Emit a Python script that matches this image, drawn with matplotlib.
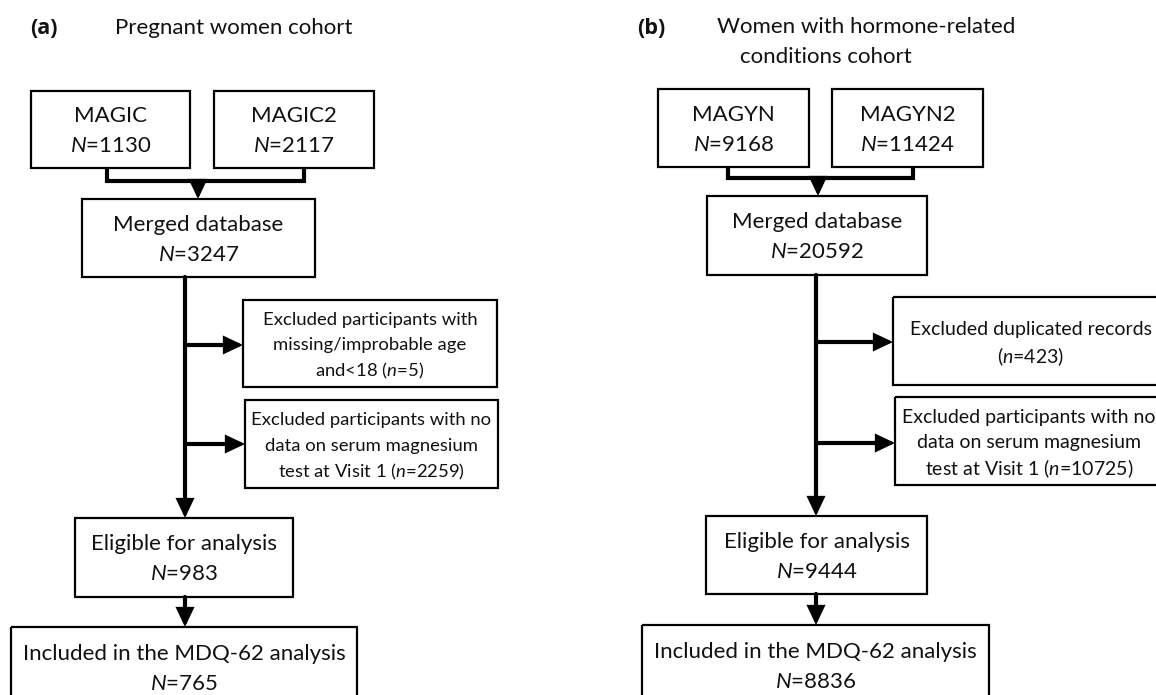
import matplotlib
matplotlib.use("Agg")
import matplotlib.pyplot as plt
from matplotlib.patches import Rectangle

# ---------------- data ----------------
panel_labels = ["(a)", "(b)"]
panel_titles = [["Pregnant women cohort"],
                ["Women with hormone-related", "conditions cohort"]]
source_names = [["MAGIC", "MAGIC2"], ["MAGYN", "MAGYN2"]]
source_n = [[1130, 2117], [9168, 11424]]
merged_n = [3247, 20592]
exclusion_texts = [
    ["Excluded participants with\nmissing/improbable age\nand<18 ",
     "Excluded participants with no\ndata on serum magnesium\ntest at Visit 1 "],
    ["Excluded duplicated records\n",
     "Excluded participants with no\ndata on serum magnesium\ntest at Visit 1 "],
]
exclusion_n = [[5, 2259], [423, 10725]]
eligible_n = [983, 9444]
included_n = [765, 8836]

# ---------------- layout (pixel space) ----------------
W, H = 1156, 695
layout = [
    dict(label=(30, 28), title=[(115, 28)], small=13.3,
         src=[(31, 91, 159, 77), (214, 91, 160, 77)],
         join_y=181, join_x=(107, 304), join_arrow_x=198,
         merged=(82, 199, 233, 78), main_x=185,
         excl=[(243, 300, 254, 87), (245, 400, 253, 88)], excl_y=[345, 444],
         elig=(75, 518, 218, 79), incl=(11, 627, 346, 80)),
    dict(label=(637, 28), title=[(717, 27), (740, 57)], small=14.0,
         src=[(658, 89, 151, 78), (832, 89, 151, 78)],
         join_y=178, join_x=(728, 913), join_arrow_x=818,
         merged=(707, 196, 220, 79), main_x=816,
         excl=[(893, 297, 276, 88), (895, 397, 268, 88)], excl_y=[342, 443],
         elig=(706, 516, 221, 78), incl=(642, 625, 347, 80)),
]

plt.rcParams["font.family"] = ["Lato", "DejaVu Sans"]
plt.rcParams["mathtext.fontset"] = "custom"
plt.rcParams["mathtext.rm"] = "Lato"
plt.rcParams["mathtext.it"] = "Lato:italic"

BIG = 16.0
BOX_LW = 1.6
CON_LW = 3.0
TXT_COLOR = "#111111"

fig = plt.figure(figsize=(W / 100, H / 100), dpi=100)
ax = fig.add_axes([0, 0, 1, 1])
ax.set_xlim(0, W)
ax.set_ylim(H, 0)
ax.axis("off")


def box(rect, lines, size, gap):
    x, y, w, h = rect
    ax.add_patch(Rectangle((x, y), w, h, fill=False, lw=BOX_LW, ec="black"))
    n = len(lines)
    cy = y + h / 2
    for i, line in enumerate(lines):
        ly = cy + (i - (n - 1) / 2) * gap
        ax.text(x + w / 2, ly, line, ha="center", va="center_baseline",
                fontsize=size, clip_on=True, color=TXT_COLOR)


def arrow(x0, y0, x1, y1):
    ax.annotate("", xy=(x1, y1), xytext=(x0, y0),
                arrowprops=dict(arrowstyle="-|>,head_length=0.95,head_width=0.45",
                                lw=CON_LW, color="black", shrinkA=0, shrinkB=0,
                                mutation_scale=10, joinstyle="miter"))


BIG_GAP = 30
SMALL_GAP = 25.5

for p, L in enumerate(layout):
    ax.text(*L["label"], panel_labels[p], fontsize=BIG - 0.4, fontweight="bold",
            family=["Open Sans", "DejaVu Sans"], ha="left", va="center",
            color=TXT_COLOR)
    for (tx, ty), line in zip(L["title"], panel_titles[p]):
        ax.text(tx, ty, line, fontsize=BIG, ha="left", va="center",
                color=TXT_COLOR)

    # source boxes
    for rect, name, n in zip(L["src"], source_names[p], source_n[p]):
        box(rect, [name, f"$N$={n}"], BIG, BIG_GAP)
    # join connector
    jx0, jx1 = L["join_x"]
    sb = L["src"][0][1] + L["src"][0][3]
    ax.plot([jx0, jx0, jx1, jx1], [sb, L["join_y"], L["join_y"], sb],
            color="black", lw=CON_LW, solid_joinstyle="miter",
            solid_capstyle="butt")
    arrow(L["join_arrow_x"], L["join_y"], L["join_arrow_x"], L["merged"][1])

    # merged
    box(L["merged"], ["Merged database", f"$N$={merged_n[p]}"], BIG, BIG_GAP)

    # main line
    mx = L["main_x"]
    arrow(mx, L["merged"][1] + L["merged"][3], mx, L["elig"][1])

    # exclusions
    for rect, ey, txt, n in zip(L["excl"], L["excl_y"], exclusion_texts[p],
                                exclusion_n[p]):
        arrow(mx, ey, rect[0], ey)
        lines = f"{txt}($n$={n})".split("\n")
        box(rect, lines, L["small"], SMALL_GAP)

    # eligible
    box(L["elig"], ["Eligible for analysis", f"$N$={eligible_n[p]}"], BIG, BIG_GAP)
    arrow(mx, L["elig"][1] + L["elig"][3], mx, L["incl"][1])
    box(L["incl"], ["Included in the MDQ-62 analysis", f"$N$={included_n[p]}"],
        BIG, BIG_GAP)

fig.savefig("out.png", dpi=100, facecolor="white")
